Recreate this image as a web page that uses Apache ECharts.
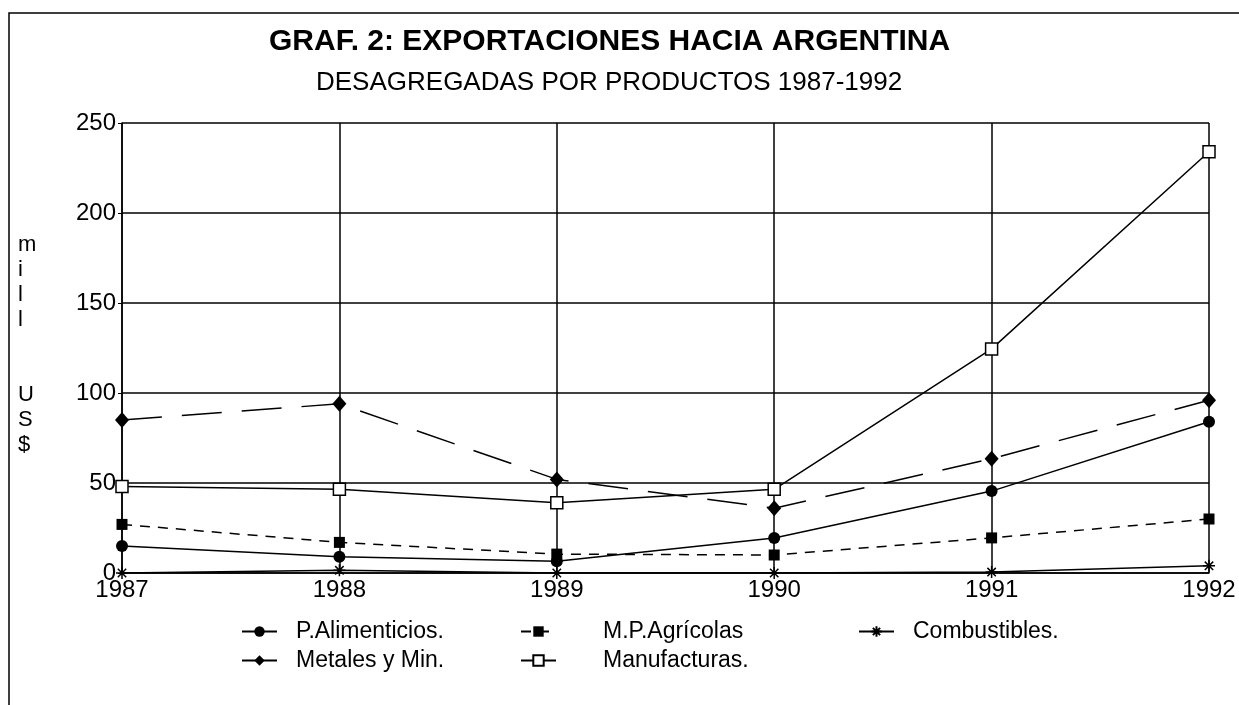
<!DOCTYPE html>
<html>
<head>
<meta charset="utf-8">
<script src="https://cdn.jsdelivr.net/npm/echarts@6/dist/echarts.min.js"></script>
<style>
html,body{margin:0;padding:0;background:#fff;}
#chart{width:1239px;height:705px;}
</style>
</head>
<body>
<div id="chart"></div>
<script>
const years = ['1987','1988','1989','1990','1991','1992'];
const yTicks = [0, 50, 100, 150, 200, 250];
const pAlimenticios = [15, 9, 6.5, 19.5, 45.5, 84];
const mpAgricolas = [27, 17, 10.5, 10, 19.5, 30];
const combustibles = [0, 1.5, 0, 0, 0.5, 4];
const metales = [85, 94, 52, 36, 63.5, 96];
const manufacturas = [48, 46.5, 39, 46.5, 124.5, 234];

const FONT = '"Liberation Sans", Arial, sans-serif';
const asterisk = 'path://M6,0 L6,12 M0,6 L12,6 M1.8,1.8 L10.2,10.2 M10.2,1.8 L1.8,10.2';

const chart = echarts.init(document.getElementById('chart'));
const legendText = { fontFamily: FONT, fontSize: 23, color: '#000' };
const baseLegend = {
  orient: 'vertical',
  itemWidth: 35,
  itemHeight: 13,
  itemGap: 6,
  inactiveColor: '#000'
};
chart.setOption({
  animation: false,
  backgroundColor: '#fff',
  title: [
    { text: 'GRAF. 2: EXPORTACIONES HACIA ARGENTINA', left: 264, top: 22, textStyle: { fontFamily: FONT, fontSize: 30, fontWeight: 'bold', color: '#000' } },
    { text: 'DESAGREGADAS POR PRODUCTOS 1987-1992', left: 311, top: 65, textStyle: { fontFamily: FONT, fontSize: 26, fontWeight: 'normal', color: '#000' } }
  ],
  graphic: [
    { type: 'polyline', shape: { points: [[9, 705], [9, 13], [1239, 13]] }, style: { stroke: '#000', lineWidth: 1.5, fill: null }, silent: true },
    { type: 'text', left: 18, top: 232, style: { text: 'm\ni\nl\nl\n\n\nU\nS\n$', font: '22px ' + FONT, fill: '#000', lineHeight: 25, align: 'center' } }
  ],
  legend: [
    Object.assign({}, baseLegend, { left: 236, top: 615, data: ['P.Alimenticios.', 'Metales y Min.'], textStyle: Object.assign({}, legendText, { padding: [0, 0, 0, 14] }) }),
    Object.assign({}, baseLegend, { left: 515, top: 615, data: ['M.P.Agrícolas', 'Manufacturas.'], textStyle: Object.assign({}, legendText, { padding: [0, 0, 0, 42] }) }),
    Object.assign({}, baseLegend, { left: 853, top: 615, data: ['Combustibles.'], textStyle: Object.assign({}, legendText, { padding: [0, 0, 0, 14] }) })
  ],
  grid: { left: 122, right: 30, top: 123, bottom: 132, containLabel: false },
  xAxis: {
    type: 'category',
    data: years,
    boundaryGap: false,
    axisLine: { lineStyle: { color: '#000', width: 1.5 } },
    axisTick: { show: false },
    axisLabel: { fontFamily: FONT, fontSize: 24, color: '#000', margin: 5, interval: 0 },
    splitLine: { show: true, lineStyle: { color: '#000', width: 1.5 } }
  },
  yAxis: {
    type: 'value',
    min: 0, max: 250, interval: 50,
    axisLine: { show: true, lineStyle: { color: '#000', width: 1.5 } },
    axisTick: { show: true, length: 4, lineStyle: { color: '#000' } },
    axisLabel: { fontFamily: FONT, fontSize: 24, color: '#000', margin: 6, formatter: v => yTicks.includes(v) ? String(v) : '' },
    splitLine: { show: true, lineStyle: { color: '#000', width: 1.5 } }
  },
  series: [
    { name: 'P.Alimenticios.', type: 'line', data: pAlimenticios, symbol: 'circle', symbolSize: 12,
      lineStyle: { color: '#000', width: 1.5 }, itemStyle: { color: '#000' } },
    { name: 'M.P.Agrícolas', type: 'line', data: mpAgricolas, symbol: 'rect', symbolSize: 11,
      lineStyle: { color: '#000', width: 1.5, type: [10, 8] }, itemStyle: { color: '#000' } },
    { name: 'Combustibles.', type: 'line', data: combustibles, symbol: asterisk, symbolSize: 12,
      lineStyle: { color: '#000', width: 1.5 }, itemStyle: { color: 'none', borderColor: '#000', borderWidth: 1.5 } },
    { name: 'Metales y Min.', type: 'line', data: metales, symbol: 'diamond', symbolSize: [14, 16],
      lineStyle: { color: '#000', width: 1.5, type: [40, 20] }, itemStyle: { color: '#000' } },
    { name: 'Manufacturas.', type: 'line', data: manufacturas, symbol: 'rect', symbolSize: 12,
      lineStyle: { color: '#000', width: 1.5 }, itemStyle: { color: '#fff', borderColor: '#000', borderWidth: 1.5 } }
  ]
});
</script>
</body>
</html>
